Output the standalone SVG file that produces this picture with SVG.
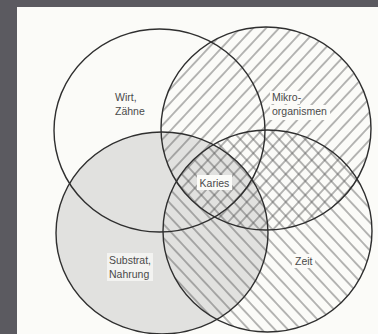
<svg xmlns="http://www.w3.org/2000/svg" width="378" height="334" viewBox="0 0 378 334">
<defs>
<style>
.ring{fill:none;stroke:#2f2f2f;stroke-width:1.4}
.lbl{font-family:"Liberation Sans",Arial,sans-serif;font-size:10.5px;fill:#4a4a4a}
.box{fill:#fbfbf8}
.hl{stroke:#5a5a5a;stroke-width:0.85}
</style>
<pattern id="hatchUp" patternUnits="userSpaceOnUse" width="9.5" height="9.5" patternTransform="rotate(-47)">
<line class="hl" x1="0" y1="4.75" x2="9.5" y2="4.75"/>
</pattern>
<pattern id="hatchDown" patternUnits="userSpaceOnUse" width="9.5" height="9.5" patternTransform="rotate(47)">
<line class="hl" x1="0" y1="4.75" x2="9.5" y2="4.75"/>
</pattern>
</defs>
<rect x="0" y="0" width="378" height="334" fill="#5b5a60"/>
<rect x="17" y="7" width="361" height="327" fill="#fbfbf8"/>

<g id="substrat">
<ellipse cx="162" cy="233" rx="106" ry="101" fill="#e1e1df"/>
</g>
<g id="mikroorganismen">
<ellipse cx="266" cy="128.5" rx="105" ry="101.5" fill="url(#hatchUp)"/>
</g>
<g id="zeit">
<ellipse cx="267.5" cy="231" rx="104.5" ry="101" fill="url(#hatchDown)"/>
</g>

<g id="outlines">
<ellipse class="ring" cx="159.5" cy="130.5" rx="105.5" ry="101.5"/>
<ellipse class="ring" cx="266" cy="128.5" rx="105" ry="101.5"/>
<ellipse class="ring" cx="162" cy="233" rx="106" ry="101"/>
<ellipse class="ring" cx="267.5" cy="231" rx="104.5" ry="101"/>
</g>

<g id="label-wirt">
<text class="lbl" x="115" y="101">Wirt,</text>
<text class="lbl" x="115" y="115">Zähne</text>
</g>
<g id="label-mikro">
<rect class="box" x="270" y="91" width="30" height="13"/>
<rect class="box" x="270" y="105" width="60" height="15"/>
<text class="lbl" x="272" y="101">Mikro-</text>
<text class="lbl" x="272" y="115">organismen</text>
</g>
<g id="label-karies">
<rect class="box" x="197" y="175" width="35" height="15"/>
<text class="lbl" x="214.5" y="187" text-anchor="middle">Karies</text>
</g>
<g id="label-substrat">
<rect x="107" y="253" width="46" height="28" fill="#f3f3f1"/>
<text class="lbl" x="109" y="264">Substrat,</text>
<text class="lbl" x="109" y="278">Nahrung</text>
</g>
<g id="label-zeit">
<rect class="box" x="292" y="254" width="23" height="14"/>
<text class="lbl" x="295" y="265">Zeit</text>
</g>
</svg>
